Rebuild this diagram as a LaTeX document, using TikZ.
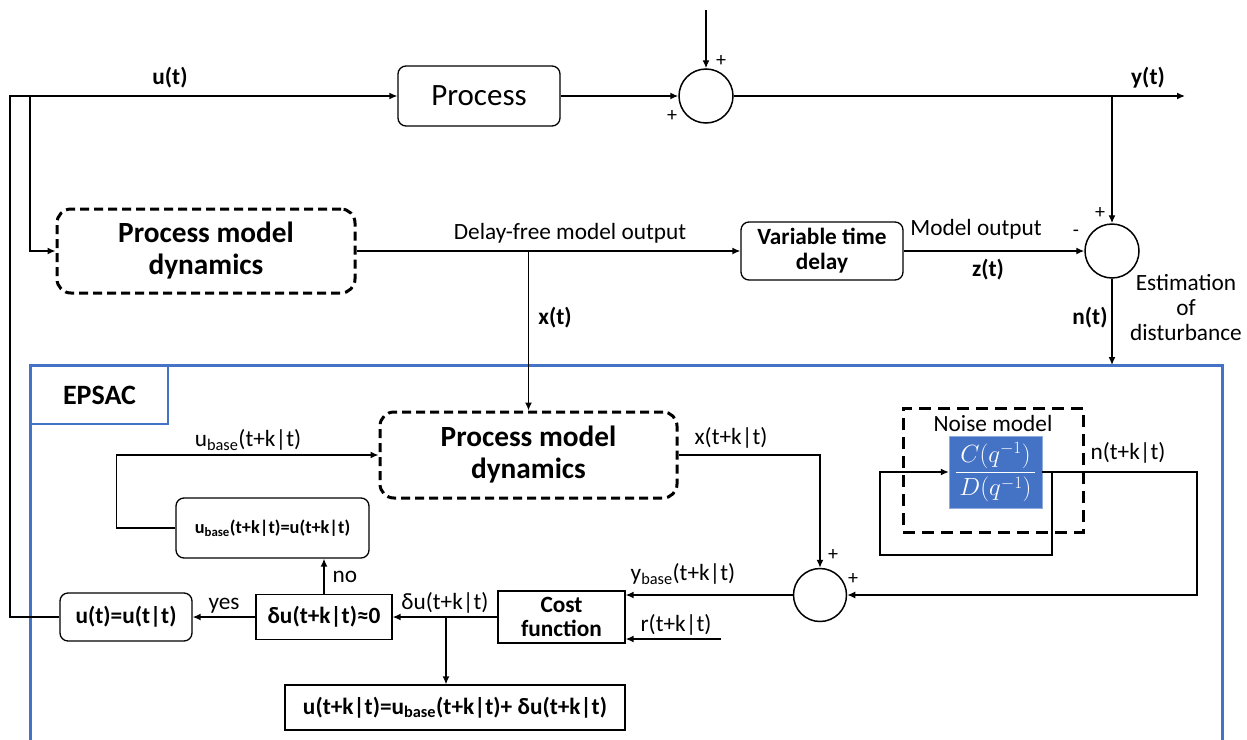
\documentclass[tikz,border=0pt]{standalone}
\usepackage{fontspec}
\setmainfont{Carlito}
\usepackage{amsmath}
\usetikzlibrary{arrows.meta,positioning}
\definecolor{epsacblue}{RGB}{68,114,196}
\newcommand{\lblsize}{\fontsize{23.3}{27}\selectfont}
\newcommand{\bigsize}{\fontsize{29.3}{32}\selectfont}

\begin{document}
\begin{tikzpicture}[x=1pt,y=-1pt,
  blk/.style={draw,line width=1.3pt,align=center,inner sep=0pt,font=\lblsize\bfseries},
  rblk/.style={blk,rounded corners=8pt},
  dblk/.style={draw,line width=3pt,dash pattern=on 9pt off 5pt,rounded corners=14pt,
               align=center,inner sep=0pt,font=\bigsize\bfseries},
  sumc/.style={draw,line width=1.5pt,circle,minimum size=54pt,inner sep=0pt},
  lbl/.style={font=\lblsize,inner sep=1pt},
  blbl/.style={font=\lblsize\bfseries,inner sep=1pt},
  sgn/.style={font=\fontsize{20}{20}\selectfont,inner sep=0pt},
  arr/.style={-{Latex[length=8pt,width=7pt]},line width=1.4pt}
]
\useasboundingbox (0,0) rectangle (1247,739);

% top row: process and output
\node[rblk,font=\fontsize{31}{34}\selectfont,minimum width=162pt,minimum height=60pt] (proc) at (479,96) {Process};
\node[sumc] (sum1) at (706,96) {};
\coordinate (dist) at (706,10);
\coordinate (yout) at (1185,96);
\coordinate (ybr) at (1112,96);
\coordinate (uL) at (10,96);
\coordinate (uB) at (30,96);

% model row
\node[dblk,minimum width=298pt,minimum height=84pt] (pmd1) at (206,251) {Process model\\dynamics};
\node[rblk,font=\fontsize{23.3}{25}\selectfont\bfseries,minimum width=162pt,minimum height=58pt] (vtd) at (822,251) {Variable time\\delay};
\node[sumc] (sum2) at (1112,251) {};
\coordinate (xbr) at (528.5,251);

% EPSAC frame
\draw[epsacblue,line width=3pt] (30,745) -- (30,365) -- (1222,365) -- (1222,745);
\node[draw=epsacblue,line width=2pt,minimum width=137pt,minimum height=58pt,
      font=\fontsize{28}{30}\selectfont\bfseries,anchor=north west] (epsac) at (30,365) {EPSAC};
\coordinate (nin) at (1112,365);

\node[dblk,minimum width=297pt,minimum height=86pt] (pmd2) at (528.5,455) {Process model\\dynamics};
\node[rblk,font=\fontsize{18.3}{20}\selectfont\bfseries,minimum width=193pt,minimum height=60pt] (ubase) at (272.5,528) {u\textsubscript{base}(t+k|t)=u(t+k|t)};
\node[blk,minimum width=136pt,minimum height=45pt] (dzero) at (324,617) {δu(t+k|t)≈0};
\node[rblk,minimum width=132pt,minimum height=48pt] (uout) at (126,617) {u(t)=u(t|t)};
\node[blk,font=\fontsize{23.3}{24}\selectfont\bfseries,minimum width=127pt,minimum height=52pt] (cost) at (561.5,617) {Cost\\function};
\node[blk,minimum width=340pt,minimum height=45pt] (uupd) at (455,707.5) {u(t+k|t)=u\textsubscript{base}(t+k|t)+ δu(t+k|t)};
\node[sumc,minimum size=53pt] (sum3) at (820,595) {};
\coordinate (rin) at (721,639);
\coordinate (dbr) at (446,617);

% noise model
\node[draw,line width=3pt,dash pattern=on 12pt off 7pt,minimum width=180pt,minimum height=124pt] (nbox) at (993,470) {};
\node[lbl] (nlbl) at (993,423) {Noise model};
\node[fill=epsacblue,draw=epsacblue!60,text=white,minimum width=93pt,minimum height=72pt,
      inner sep=0pt,font=\fontsize{23}{26}\selectfont] (noise) at (995.5,472) {$\dfrac{\,C(q^{-1})\,}{D(q^{-1})}$};
\coordinate (nright) at (1197,472);
\coordinate (nfb) at (1052,472);

% connectors
\draw[arr] (dist) -- (sum1);
\draw[arr] (proc) -- (sum1);
\draw[arr] (sum1) -- (yout);
\draw[arr] (ybr) -- (sum2);
\draw[arr] (uout.west) -| (uL) -- (proc);
\draw[arr] (uB) |- (pmd1);
\draw[arr] (pmd1) -- (vtd);
\draw[arr] (vtd) -- (sum2);
\draw[arr] (xbr) -- (pmd2);
\draw[arr] (sum2) -- (nin);
\draw[arr] (ubase.west) -- ++(-59,0) |- (pmd2.west);
\draw[arr] (dzero.north) -- (dzero.north |- ubase.south);
\draw[arr] (dzero) -- node[lbl,above=2pt]{yes} (uout);
\draw[arr] (cost) -- node[lbl,above=2pt]{δu(t+k|t)} (dzero);
\draw[arr] (dbr) -- (dbr |- uupd.north);
\draw[arr] (sum3.west) -- (sum3.west -| cost.east);
\draw[arr] (rin) -- (rin -| cost.east);
\draw[arr] (pmd2.east) -| (sum3.north);
\draw[arr] (noise.east) -- (nright) |- (sum3.east);
\draw[arr] (nfb) -- ++(0,83) -| ([xshift=-69pt]noise.west) -- (noise.west);

% labels
\node[blbl] at (170,78) {u(t)};
\node[blbl] at (1148,78) {y(t)};
\node[lbl] at (570,233) {Delay-free model output};
\node[blbl] at (555,318) {x(t)};
\node[lbl] at (976,229) {Model output};
\node[blbl] at (988,270) {z(t)};
\node[blbl] at (1090,318) {n(t)};
\node[lbl,align=center,font=\fontsize{23.3}{25}\selectfont] at (1186,308) {Estimation\\of\\disturbance};
\node[lbl] at (248,440) {u\textsubscript{base}(t+k|t)};
\node[lbl] at (731,438) {x(t+k|t)};
\node[lbl] at (1128,453) {n(t+k|t)};
\node[lbl] at (683,574) {y\textsubscript{base}(t+k|t)};
\node[lbl] at (676,625) {r(t+k|t)};
\node[lbl] at (345,577) {no};
\node[sgn] at (721,61) {+};
\node[sgn] at (672,116) {+};
\node[sgn] at (1100,213) {+};
\node[sgn] at (1076,233) {-};
\node[sgn] at (833,555) {+};
\node[sgn] at (853,579) {+};
\end{tikzpicture}
\end{document}
